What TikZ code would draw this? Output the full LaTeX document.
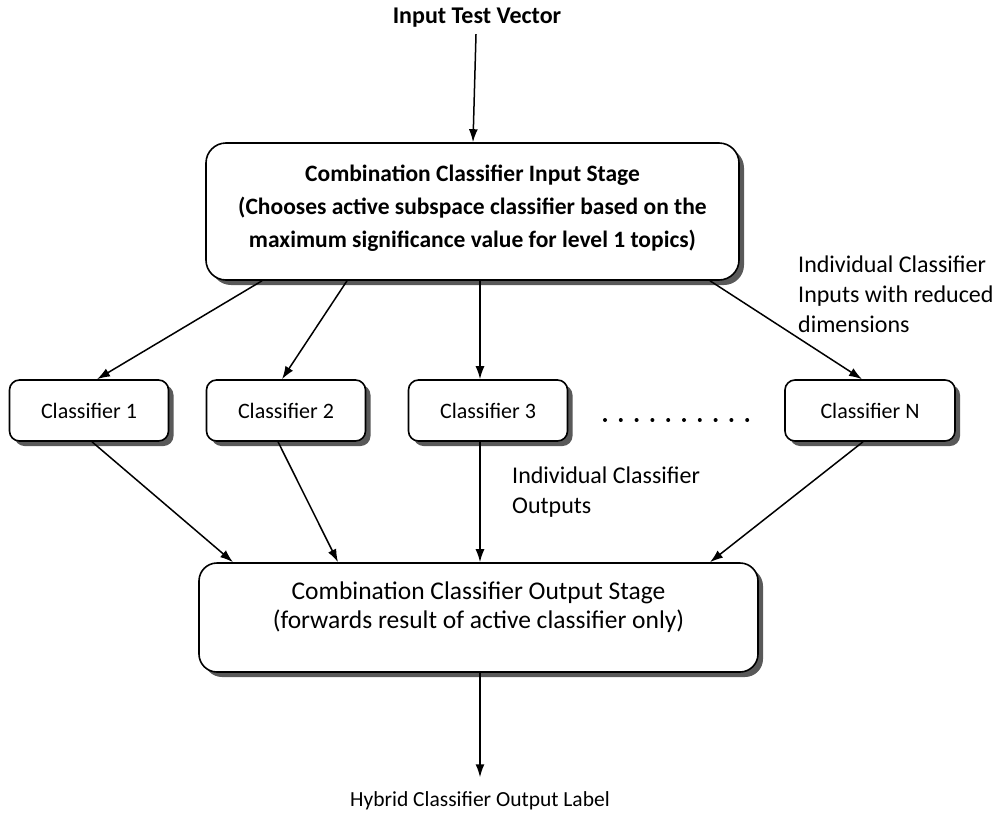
\documentclass[tikz,border=0pt]{standalone}
\usepackage{fontspec}
\setmainfont{Carlito}
\usetikzlibrary{arrows.meta,shadows}

\tikzset{
  boxshadow/.style={drop shadow={shadow xshift=5pt,shadow yshift=-5pt,fill=black!65,opacity=1}},
  stagebox/.style={draw,line width=1.6pt,fill=white,rounded corners=20pt,boxshadow},
  clsbox/.style={draw,line width=1.6pt,fill=white,rounded corners=10pt,boxshadow,
    minimum width=159pt,minimum height=61pt,inner sep=0pt,font=\fontsize{22}{26}\selectfont},
  lbl/.style={align=left,inner sep=0pt,font=\fontsize{24}{30}\selectfont},
  conn/.style={line width=1.5pt,-{Latex[length=13pt,width=9pt]}}
}

\begin{document}
\begin{tikzpicture}[x=1pt,y=-1pt]
\useasboundingbox[fill=white] (0,0) rectangle (994,817);

\node[font=\bfseries\fontsize{24}{28}\selectfont] (invec) at (477,18) {Input Test Vector};

\node[stagebox,minimum width=533pt,minimum height=137pt,inner sep=0pt] (instage) at (472.5,211.5) {};
\node[align=center,font=\bfseries\fontsize{23.5}{33}\selectfont] (intext) at ([yshift=3pt]instage.center)
  {Combination Classifier Input Stage\\(Chooses active subspace classifier based on the\\maximum significance value for level 1 topics)};

\node[clsbox] (cls1) at (89,410.5) {Classifier 1};
\node[clsbox] (cls2) at (286,410.5) {Classifier 2};
\node[clsbox] (cls3) at (488,410.5) {Classifier 3};
\node[clsbox,minimum width=170pt] (clsn) at (870,410.5) {Classifier N};
\foreach \i in {0,...,9}
  \fill (605+\i*15.8,420) circle (2pt);

\node[stagebox,rounded corners=18pt,minimum width=559pt,minimum height=109pt,inner sep=0pt] (outstage) at (478.5,617.5) {};
\node[align=center,font=\fontsize{25.5}{29}\selectfont] (outtext) at ([yshift=10pt]outstage.center)
  {Combination Classifier Output Stage\\(forwards result of active classifier only)};

\node[font=\fontsize{21.5}{24}\selectfont] (outlbl) at (480,801) {Hybrid Classifier Output Label};

\node[lbl,anchor=north west] (inlbl) at (798,256) {Individual Classifier\\Inputs with reduced\\dimensions};
\node[lbl,anchor=north west] (outslbl) at (512,467) {Individual Classifier\\Outputs};

% input side
\draw[conn] ([xshift=-1pt,yshift=-3pt]invec.south) -- ([xshift=0.5pt]instage.north);
\draw[conn] ([xshift=-210.5pt]instage.south) -- ([xshift=8pt]cls1.north);
\draw[conn] ([xshift=-125.5pt]instage.south) -- ([xshift=-4pt]cls2.north);
\draw[conn] ([xshift=7.5pt]instage.south) -- ([xshift=-8pt]cls3.north);
\draw[conn] ([xshift=237.5pt]instage.south) -- ([xshift=-8pt]clsn.north);

% output side
\draw[conn] ([xshift=3pt]cls1.south) -- ([xshift=-245.5pt]outstage.north);
\draw[conn] ([xshift=-8pt]cls2.south) -- ([xshift=-140.5pt]outstage.north);
\draw[conn] ([xshift=-8pt]cls3.south) -- ([xshift=1.5pt]outstage.north);
\draw[conn] ([xshift=-7pt]clsn.south) -- ([xshift=231.5pt]outstage.north);
\draw[conn] ([xshift=1.5pt]outstage.south) -- ([yshift=11pt]outlbl.north);
\end{tikzpicture}
\end{document}
